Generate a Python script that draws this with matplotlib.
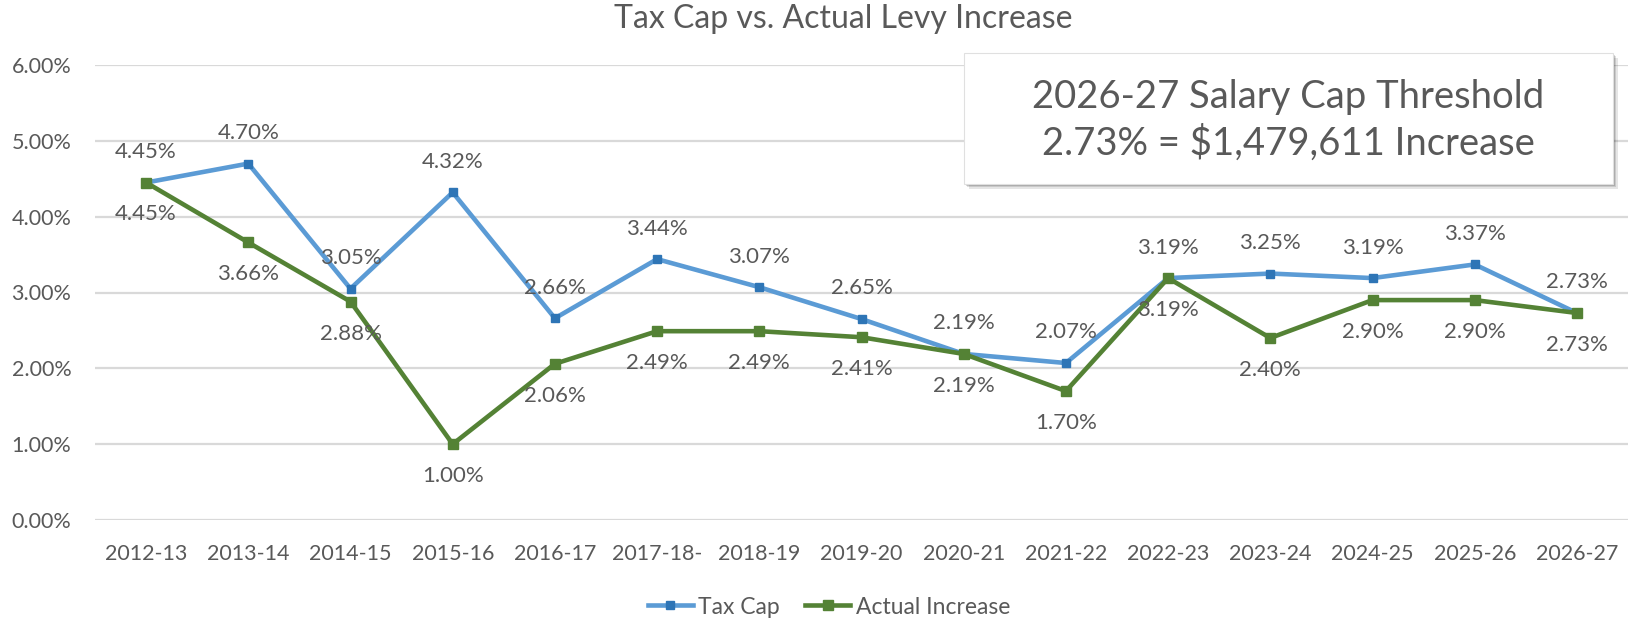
import matplotlib.pyplot as plt
from matplotlib.patches import FancyBboxPatch
from matplotlib.ticker import FuncFormatter

plt.rcParams['font.family'] = ['Lato', 'DejaVu Sans']

years = ['2012-13', '2013-14', '2014-15', '2015-16', '2016-17', '2017-18-',
         '2018-19', '2019-20', '2020-21', '2021-22', '2022-23', '2023-24',
         '2024-25', '2025-26', '2026-27']
tax_cap = [4.45, 4.70, 3.05, 4.32, 2.66, 3.44, 3.07, 2.65, 2.19, 2.07,
           3.19, 3.25, 3.19, 3.37, 2.73]
actual = [4.45, 3.66, 2.88, 1.00, 2.06, 2.49, 2.49, 2.41, 2.19, 1.70,
          3.19, 2.40, 2.90, 2.90, 2.73]

grey = '#595959'
blue = '#5B9BD5'
blue_dark = '#2E75B6'
green = '#548235'

W, H = 1635, 618
fig = plt.figure(figsize=(W / 100, H / 100), dpi=100)
ax = fig.add_axes([95 / W, 1 - 520 / H, (1628 - 95) / W, (520 - 65) / H])

x = list(range(len(years)))
ax.plot(x, tax_cap, color=blue, lw=3.3, marker='s', ms=6.3,
        mfc=blue_dark, mec=blue_dark, zorder=3, label='Tax Cap')
ax.plot(x, actual, color=green, lw=3.3, marker='s', ms=7.2,
        mfc=green, mec=green, zorder=4, label='Actual Increase')

for i, v in enumerate(tax_cap):
    ax.annotate(f'{v:.2f}%', (i, v), xytext=(0, 22), textcoords='offset points',
                ha='center', va='center', fontsize=16, color=grey, zorder=5)
for i, v in enumerate(actual):
    ax.annotate(f'{v:.2f}%', (i, v), xytext=(0, -23), textcoords='offset points',
                ha='center', va='center', fontsize=16, color=grey, zorder=5)

ax.set_xlim(-0.5, len(years) - 0.5)
ax.set_ylim(0, 6)
ax.set_yticks([0, 1, 2, 3, 4, 5, 6])
ax.yaxis.set_major_formatter(FuncFormatter(lambda v, p: f'{v:.2f}%'))
ax.set_xticks(x)
ax.set_xticklabels(years)
ax.tick_params(axis='both', length=0, colors=grey)
ax.tick_params(axis='y', labelsize=15.5, pad=17)
ax.tick_params(axis='x', labelsize=15.5, pad=17)
ax.grid(axis='y', color='#D9D9D9', lw=1.6)
ax.set_axisbelow(True)
for s in ax.spines.values():
    s.set_visible(False)

fig.text(843 / W, 1 - 28 / H, 'Tax Cap vs. Actual Levy Increase',
         ha='center', va='baseline', fontsize=23, color=grey)

fig.legend(loc='center', bbox_to_anchor=(829 / W, 1 - 607 / H), ncol=2,
           frameon=False, fontsize=16.5, labelcolor=grey, handlelength=1.95,
           columnspacing=1.1, handletextpad=0.25)

# callout box with shadow
bx0, bx1, by0, by1 = 964 / W, 1613 / W, 1 - 184 / H, 1 - 53 / H
for k, a in enumerate([0.10, 0.12, 0.15]):
    off = (3 - k) * 1.5
    sh = FancyBboxPatch((bx0 + off / W, by0 - off / H), bx1 - bx0, by1 - by0,
                        boxstyle='square,pad=0', transform=fig.transFigure,
                        fc='black', ec='none', alpha=a, zorder=8)
    fig.patches.append(sh)
box = FancyBboxPatch((bx0, by0), bx1 - bx0, by1 - by0, boxstyle='square,pad=0',
                     transform=fig.transFigure, fc='white', ec='#E0E0E0',
                     lw=0.8, zorder=9)
fig.patches.append(box)
fig.text((bx0 + bx1) / 2, 1 - 97 / H, '2026-27 Salary Cap Threshold',
         ha='center', va='center', fontsize=27.5, color=grey, zorder=10)
fig.text((bx0 + bx1) / 2, 1 - 143 / H, '2.73% = $1,479,611 Increase',
         ha='center', va='center', fontsize=27.5, color=grey, zorder=10)

fig.savefig('out.png', dpi=100)
